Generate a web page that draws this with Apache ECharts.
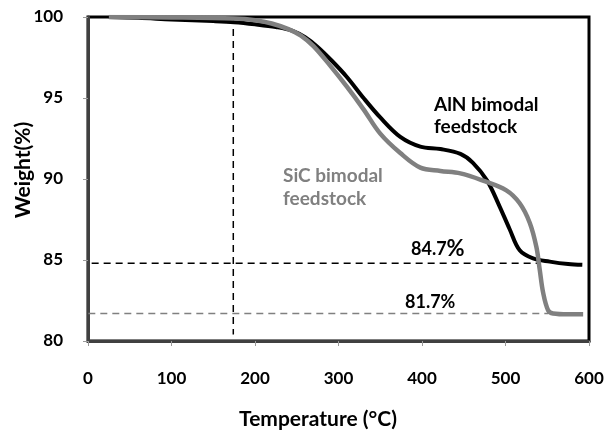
<!DOCTYPE html>
<html>
<head>
<meta charset="utf-8">
<script src="https://cdn.jsdelivr.net/npm/echarts@6/dist/echarts.min.js"></script>
<style>
  html, body { margin: 0; padding: 0; background: #fff; }
  #chart { width: 607px; height: 434px; }
</style>
</head>
<body>
<div id="chart"></div>
<script>
// TGA curves: [temperature °C, weight %]
const alnCurve = [
  [25, 100], [60, 99.95], [100, 99.85], [150, 99.75], [175, 99.68], [200, 99.55],
  [225, 99.38], [245, 99.15], [260, 98.75], [275, 98.15], [292, 97.3], [310, 96.3],
  [330, 95.0], [350, 93.8], [374, 92.6], [398, 92.0], [422, 91.85], [446, 91.55],
  [461, 91.0], [478, 89.9], [493, 88.3], [505, 86.9], [517, 85.6], [533, 85.1],
  [553, 84.9], [575, 84.75], [592, 84.7]
];
const sicCurve = [
  [25, 100], [100, 99.97], [175, 99.9], [200, 99.8], [220, 99.6], [240, 99.25],
  [255, 98.85], [270, 98.2], [290, 97.0], [310, 95.7], [330, 94.3], [350, 92.8],
  [374, 91.6], [398, 90.7], [422, 90.5], [446, 90.35], [473, 89.9], [501, 89.3],
  [517, 88.5], [529, 87.3], [537, 85.8], [541, 84.4], [545, 83.0], [551, 81.9],
  [557, 81.7], [575, 81.65], [593, 81.65]
];
// reference lines
const onsetLine = [[174, 100], [174, 80.4]];
const alnResidue = [[-10, 84.8], [541, 84.8]];
const sicResidue = [[-14, 81.7], [551, 81.7]];

const font = 'Lato, "Open Sans", sans-serif';

const chart = echarts.init(document.getElementById('chart'));
chart.setOption({
  animation: false,
  grid: {
    left: 88, right: 18, top: 17, bottom: 93,
    show: true, borderColor: '#000', borderWidth: 3
  },
  xAxis: {
    type: 'value', min: 0, max: 600, interval: 100,
    axisLine: { show: true, lineStyle: { color: '#404040', width: 3 } },
    axisTick: { show: true, length: 5, lineStyle: { color: '#999', width: 1 } },
    axisLabel: { margin: 29, fontFamily: font, fontWeight: 'bold', fontSize: 17, color: '#000' },
    splitLine: { show: false }
  },
  yAxis: {
    type: 'value', min: 80, max: 100, interval: 5,
    axisLine: { show: true, lineStyle: { color: '#404040', width: 3 } },
    axisTick: { show: true, length: 5, lineStyle: { color: '#999', width: 1 } },
    axisLabel: { margin: 25, fontFamily: font, fontWeight: 'bold', fontSize: 17, color: '#000' },
    splitLine: { show: false }
  },
  series: [
    {
      type: 'line', data: onsetLine, symbol: 'none', silent: true,
      lineStyle: { color: '#000', width: 1.5, type: [7, 5] }, z: 1
    },
    {
      type: 'line', data: alnResidue, symbol: 'none', silent: true, clip: false,
      lineStyle: { color: '#000', width: 1.5, type: [7, 5] }, z: 1
    },
    {
      type: 'line', data: sicResidue, symbol: 'none', silent: true, clip: false,
      lineStyle: { color: '#808080', width: 1.5, type: [7, 5] }, z: 1
    },
    {
      name: 'AlN', type: 'line', data: alnCurve, smooth: 0.35, symbol: 'none',
      lineStyle: { color: '#000', width: 4 }, z: 3
    },
    {
      name: 'SiC', type: 'line', data: sicCurve, smooth: 0.35, symbol: 'none',
      lineStyle: { color: '#808080', width: 4.5 }, z: 4
    }
  ],
  graphic: [
    { type: 'text', x: 318, y: 419, style: { text: 'Temperature (°C)', fill: '#000', font: 'bold 21px ' + font, align: 'center', verticalAlign: 'middle' } },
    { type: 'text', x: 23, y: 170, rotation: Math.PI / 2, style: { text: 'Weight(%)', fill: '#000', font: 'bold 21px ' + font, align: 'center', verticalAlign: 'middle' } },
    { type: 'text', x: 434, y: 94, style: { text: 'AlN bimodal\nfeedstock', fill: '#000', font: 'bold 19px ' + font, lineHeight: 22 } },
    { type: 'text', x: 283, y: 164, style: { text: 'SiC bimodal\nfeedstock', fill: '#808080', font: 'bold 19px ' + font, lineHeight: 23 } },
    { type: 'text', x: 411, y: 238, style: { rich: { a: { font: 'bold 18px ' + font, fill: '#000' }, b: { font: 'bold 22px ' + font, fill: '#000' } }, text: '{a|84.7}{b|%}' } },
    { type: 'text', x: 405, y: 293, style: { text: '81.7%', fill: '#000', font: 'bold 18px ' + font } }
  ]
});
</script>
</body>
</html>
